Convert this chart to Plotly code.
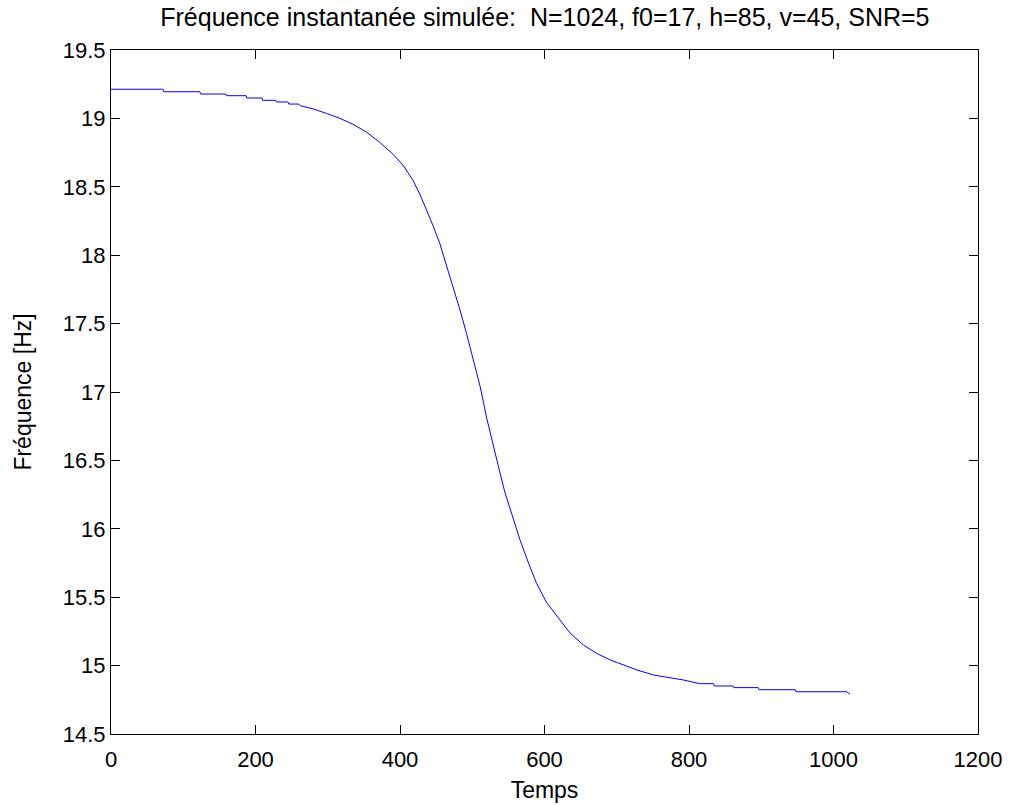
import plotly.graph_objects as go

# Data
temps = [0, 72, 73, 123, 124, 159, 160, 187, 188, 209, 210, 228, 229, 245, 246, 259,
         262, 280, 298, 317, 335, 354, 372, 391, 405, 418, 428, 439, 446, 455, 465,
         474, 483, 492, 501.5, 511, 520, 527, 536, 545, 555, 566, 578, 589, 603, 620,
         635, 654, 672, 691, 709, 728, 751, 778, 792, 815, 834, 835, 861, 862, 896,
         897, 947, 948, 1018, 1023]
frequence = [19.213, 19.213, 19.195, 19.195, 19.178, 19.178, 19.166, 19.166, 19.149, 19.149,
             19.132, 19.132, 19.12, 19.12, 19.105, 19.105,
             19.093, 19.069, 19.037, 19.0, 18.957, 18.898, 18.825, 18.735, 18.652, 18.547,
             18.44, 18.306, 18.212, 18.087, 17.916, 17.77, 17.6, 17.429, 17.234, 17.039,
             16.81, 16.65, 16.46, 16.27, 16.10, 15.92, 15.748, 15.601, 15.46, 15.34,
             15.24, 15.15, 15.09, 15.041, 15.004, 14.968, 14.931, 14.907, 14.895, 14.868,
             14.868, 14.851, 14.851, 14.839, 14.839, 14.824, 14.824, 14.809, 14.809, 14.792]

x_ticks = [0, 200, 400, 600, 800, 1000, 1200]
y_ticks = [14.5, 15, 15.5, 16, 16.5, 17, 17.5, 18, 18.5, 19, 19.5]
y_tick_text = ["14.5", "15", "15.5", "16", "16.5", "17", "17.5", "18", "18.5", "19", "19.5"]

title_text = "Fréquence instantanée simulée:  N=1024, f0=17, h=85, v=45, SNR=5"

FONT = "Liberation Sans, Arial, sans-serif"

fig = go.Figure()
fig.add_trace(go.Scatter(x=temps, y=frequence, mode="lines",
                         line=dict(color="#0000ff", width=1), showlegend=False))

axis_common = dict(showgrid=False, zeroline=False, showline=True, linecolor="black",
                   linewidth=1, mirror="ticks", ticks="inside", ticklen=9,
                   tickcolor="black", tickwidth=1, automargin=False,
                   tickfont=dict(family=FONT, size=22, color="black"))

fig.update_layout(
    width=1010, height=805,
    margin=dict(l=111, r=32, t=50, b=71),
    paper_bgcolor="white", plot_bgcolor="white",
    title=dict(text=title_text, x=0.5395, xanchor="center", y=0.979, yanchor="middle",
               font=dict(family=FONT, size=25, color="black")),
    xaxis=dict(range=[0, 1200], tickvals=x_ticks, ticklabelstandoff=6,
               title=dict(text="Temps", font=dict(family=FONT, size=23, color="black"), standoff=10),
               **axis_common),
    yaxis=dict(range=[14.5, 19.5], tickvals=y_ticks, ticktext=y_tick_text,
               title=dict(text="Fréquence [Hz]", font=dict(family=FONT, size=23, color="black"), standoff=24),
               **axis_common),
)

fig.write_html("out.html")
